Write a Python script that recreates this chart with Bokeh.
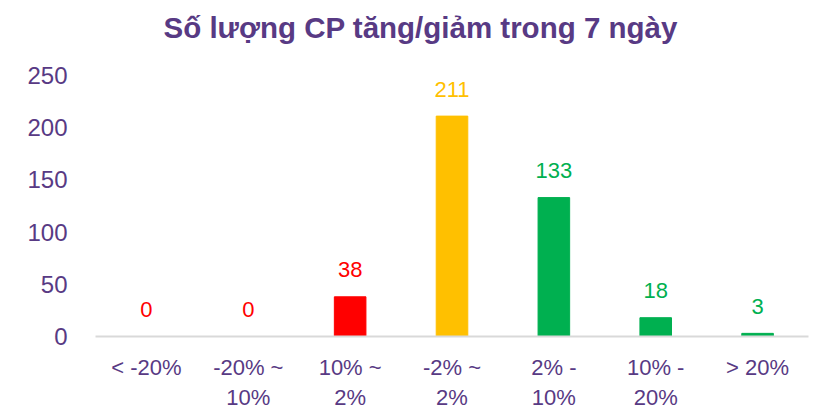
from bokeh.plotting import figure
from bokeh.models import ColumnDataSource, Range1d, FactorRange, FixedTicker
from bokeh.embed import file_html
from bokeh.resources import INLINE
from bokeh.core.properties import value

categories = ["< -20%", "-20% ~\n10%", "10% ~\n2%", "-2% ~\n2%", "2% -\n10%", "10% -\n20%", "> 20%"]
counts = [0, 0, 38, 211, 133, 18, 3]
bar_colors = ["#FF0000", "#FF0000", "#FF0000", "#FFC000", "#00B050", "#00B050", "#00B050"]
y_ticks = [0, 50, 100, 150, 200, 250]
title_text = "Số lượng CP tăng/giảm trong 7 ngày"

PURPLE = "#583A84"
FONT = "Liberation Sans"

src = ColumnDataSource(dict(x=categories, top=counts, color=bar_colors,
                            label=[str(c) for c in counts]))

# frame extends a little above the top tick (blank headroom) so the title sits high
p = figure(width=815, height=412, x_range=FactorRange(*categories, range_padding=0),
           y_range=Range1d(0, 270), output_backend="svg", toolbar_location=None,
           min_border_left=95, min_border_right=7, min_border_top=54, min_border_bottom=0)
p.outline_line_color = None
p.xgrid.grid_line_color = None
p.ygrid.grid_line_color = None

p.title.text = title_text
p.title.align = "left"
p.title.offset = 68
p.title.standoff = 18
p.title.vertical_align = "top"
p.title.text_font = FONT
p.title.text_font_size = "29.5px"
p.title.text_font_style = "bold"
p.title.text_color = PURPLE

p.vbar(x="x", top="top", width=0.31, color="color", source=src)
p.text(x="x", y="top", text="label", text_color="color", source=src,
       text_align="center", text_baseline="alphabetic", y_offset=-27,
       text_font=value(FONT), text_font_size="22px")

p.yaxis.ticker = FixedTicker(ticks=y_ticks)
p.yaxis.axis_line_color = None
p.yaxis.major_tick_line_color = None
p.yaxis.minor_tick_line_color = None
p.yaxis.major_label_standoff = 22
p.yaxis.major_label_text_font = FONT
p.yaxis.major_label_text_font_size = "24px"
p.yaxis.major_label_text_color = PURPLE

p.xaxis.axis_line_color = "#D9D9D9"
p.xaxis.axis_line_width = 2
p.xaxis.major_tick_line_color = None
p.xaxis.minor_tick_line_color = None
p.xaxis.major_label_standoff = 12
p.xaxis.major_label_text_font = FONT
p.xaxis.major_label_text_font_size = "22px"
p.xaxis.major_label_text_color = PURPLE
p.xaxis.major_label_text_line_height = 1.2

open("out.html", "w").write(file_html(p, INLINE))
